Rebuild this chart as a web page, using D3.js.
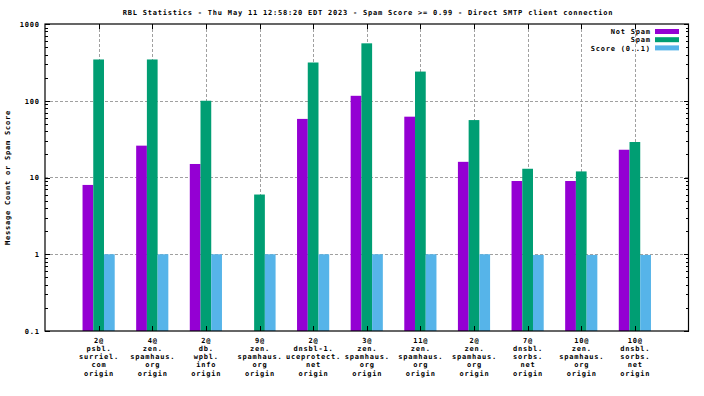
<!DOCTYPE html>
<html>
<head>
<meta charset="utf-8">
<script src="https://cdn.jsdelivr.net/npm/d3@7"></script>
<style>
    body { margin: 0; background: #fff; }
    svg { display: block; }
    text { font-family: "DejaVu Sans Mono", "Liberation Mono", monospace; font-size: 7px; font-weight: bold; letter-spacing: 0.79px; fill: #000; }
    .axis path { display: none; }
    .axis line { stroke: #000; shape-rendering: crispEdges; }
    .grid { stroke: #a0a0a0; stroke-dasharray: 3,2; shape-rendering: crispEdges; }
</style>
</head>
<body>
<div id="chart"></div>
<script>

var title = 'RBL Statistics - Thu May 11 12:58:20 EDT 2023 - Spam Score >= 0.99 - Direct SMTP client connection';
var yTitle = 'Message Count or Spam Score';

var groupLabels = [
    ['2@', 'psbl.', 'surriel.', 'com', 'origin'],
    ['4@', 'zen.', 'spamhaus.', 'org', 'origin'],
    ['2@', 'db.', 'wpbl.', 'info', 'origin'],
    ['9@', 'zen.', 'spamhaus.', 'org', 'origin'],
    ['2@', 'dnsbl-1.', 'uceprotect.', 'net', 'origin'],
    ['3@', 'zen.', 'spamhaus.', 'org', 'origin'],
    ['11@', 'zen.', 'spamhaus.', 'org', 'origin'],
    ['2@', 'zen.', 'spamhaus.', 'org', 'origin'],
    ['7@', 'dnsbl.', 'sorbs.', 'net', 'origin'],
    ['10@', 'zen.', 'spamhaus.', 'org', 'origin'],
    ['10@', 'dnsbl.', 'sorbs.', 'net', 'origin']
];

var seriesNames = ['Not Spam', 'Spam', 'Score (0..1)'];
var seriesColors = ['#9400d3', '#009e73', '#56b4e9'];

var notSpam = [8, 26, 15, 0, 58, 116, 62, 16, 9, 9, 23];
var spam = [345, 345, 100, 6, 315, 560, 240, 56, 13, 12, 29];
var score = [1, 1, 1, 1, 1, 1, 1, 1, 0.98, 0.98, 0.98];

var yTicks = [0.1, 1, 10, 100, 1000];
var yTickLabels = ['0.1', '1', '10', '100', '1000'];

var W = 704, H = 396;
var margin = {top: 24, right: 15.5, bottom: 65, left: 45};

var series = [notSpam, spam, score];

var svg = d3.select('#chart').append('svg')
    .attr('width', W)
    .attr('height', H);

var x = d3.scaleLinear()
    .domain([-1, groupLabels.length])
    .range([margin.left, W - margin.right]);

var y = d3.scaleLog()
    .domain([0.1, 1000])
    .range([H - margin.bottom, margin.top]);

// bars inside a group: 0.2 units each, centred on the group
var inner = d3.scaleBand()
    .domain(d3.range(seriesNames.length))
    .range([x(-0.3) - x(0), x(0.3) - x(0)]);

var idx = d3.range(groupLabels.length);

// minor ticks 2..9 per decade
var minorTicks = [];
for (var e = -1; e < 3; e++) {
    for (var m = 2; m < 10; m++) minorTicks.push(m * Math.pow(10, e));
}

// grid
svg.append('g').selectAll('line')
    .data(idx)
  .enter().append('line')
    .attr('class', 'grid')
    .attr('x1', function(d) { return Math.round(x(d)) + 0.5; })
    .attr('x2', function(d) { return Math.round(x(d)) + 0.5; })
    .attr('y1', y(1000))
    .attr('y2', y(0.1));

svg.append('g').selectAll('line')
    .data([1, 10, 100])
  .enter().append('line')
    .attr('class', 'grid')
    .attr('x1', x.range()[0])
    .attr('x2', x.range()[1])
    .attr('y1', function(d) { return Math.round(y(d)) + 0.5; })
    .attr('y2', function(d) { return Math.round(y(d)) + 0.5; });

// bars (zero values are not drawn on a log axis)
series.forEach(function(vals, s) {
    svg.append('g')
        .attr('fill', seriesColors[s])
        .selectAll('rect')
        .data(idx.filter(function(i) { return vals[i] > 0; }))
      .enter().append('rect')
        .attr('x', function(i) { return x(i) + inner(s); })
        .attr('width', inner.bandwidth())
        .attr('y', function(i) { return y(vals[i]); })
        .attr('height', function(i) { return y(0.1) - y(vals[i]); });
});

// axes
svg.append('g')
    .attr('class', 'axis')
    .attr('transform', 'translate(' + x.range()[0] + ',0)')
    .call(d3.axisLeft(y).tickValues(yTicks).tickSize(-5).tickPadding(5.2)
        .tickFormat(function(d, i) { return yTickLabels[i]; }));

svg.append('g')
    .attr('class', 'axis')
    .attr('transform', 'translate(' + x.range()[0] + ',0)')
    .call(d3.axisLeft(y).tickValues(minorTicks).tickSize(-2.5).tickFormat(''));

svg.append('g')
    .attr('class', 'axis')
    .attr('transform', 'translate(' + x.range()[1] + ',0)')
    .call(d3.axisRight(y).tickValues(yTicks).tickSize(-5).tickFormat(''));

svg.append('g')
    .attr('class', 'axis')
    .attr('transform', 'translate(' + x.range()[1] + ',0)')
    .call(d3.axisRight(y).tickValues(minorTicks).tickSize(-2.5).tickFormat(''));

svg.append('g')
    .attr('class', 'axis')
    .attr('transform', 'translate(0,' + y(0.1) + ')')
    .call(d3.axisBottom(x).tickValues(idx).tickSize(-5).tickFormat(''));

svg.append('g')
    .attr('class', 'axis')
    .attr('transform', 'translate(0,' + y(1000) + ')')
    .call(d3.axisTop(x).tickValues(idx).tickSize(-5).tickFormat(''));

svg.selectAll('.axis text').attr('font-family', null).attr('font-size', null);

// border
svg.append('rect')
    .attr('x', x.range()[0])
    .attr('y', y(1000))
    .attr('width', x.range()[1] - x.range()[0])
    .attr('height', y(0.1) - y(1000))
    .attr('fill', 'none')
    .attr('stroke', '#000')
    .attr('stroke-width', 1.2);

// x labels, one tspan per line
var xl = svg.append('g').selectAll('text')
    .data(idx)
  .enter().append('text')
    .attr('text-anchor', 'middle')
    .attr('y', y(0.1) + 11.5);

xl.selectAll('tspan')
    .data(function(i) { return groupLabels[i].map(function(t) { return {t: t, i: i}; }); })
  .enter().append('tspan')
    .attr('x', function(d) { return x(d.i) + 0.4; })
    .attr('dy', function(d, j) { return j == 0 ? 0 : 8.3; })
    .text(function(d) { return d.t; });

// titles
svg.append('text')
    .attr('x', 368)
    .attr('y', 15)
    .attr('text-anchor', 'middle')
    .text(title);

svg.append('text')
    .attr('transform', 'translate(10,' + ((y(0.1) + y(1000)) / 2) + ') rotate(-90)')
    .attr('text-anchor', 'middle')
    .text(yTitle);

// legend
var legend = svg.append('g').selectAll('g')
    .data(seriesNames)
  .enter().append('g')
    .attr('transform', function(d, i) { return 'translate(0,' + (31.5 + i * 8.2) + ')'; });

legend.append('text')
    .attr('x', 650.8)
    .attr('y', 2.6)
    .attr('text-anchor', 'end')
    .text(function(d) { return d; });

legend.append('rect')
    .attr('x', 655)
    .attr('y', -2.5)
    .attr('width', 24)
    .attr('height', 5)
    .attr('fill', function(d, i) { return seriesColors[i]; });

</script>
</body>
</html>
